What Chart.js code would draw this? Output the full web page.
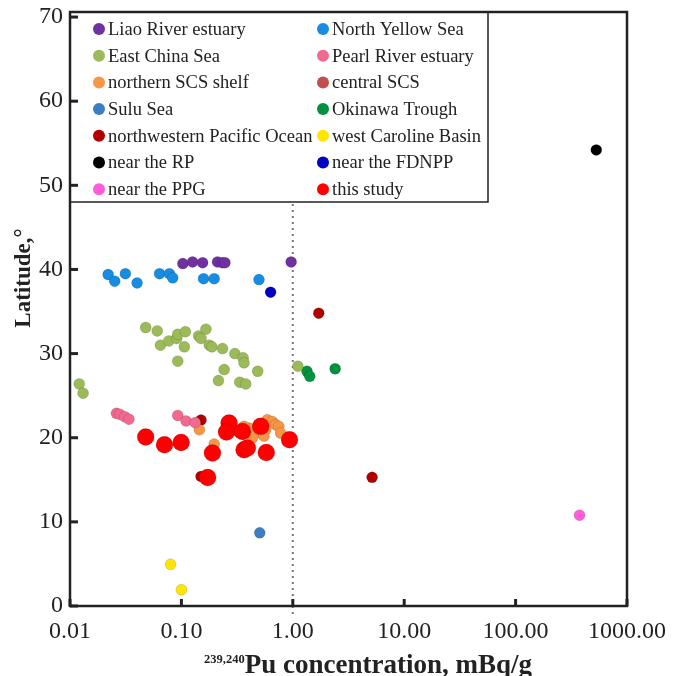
<!DOCTYPE html>
<html>
<head>
<meta charset="utf-8">
<script src="https://cdn.jsdelivr.net/npm/chart.js@4.4.1/dist/chart.umd.min.js"></script>
<style>
html, body { margin: 0; padding: 0; background: #fff; }
</style>
</head>
<body>
<canvas id="myChart" width="676" height="676"></canvas>
<script>
const xTickValues = [0.01, 0.1, 1, 10, 100, 1000];
const xTickLabels = ['0.01', '0.10', '1.00', '10.00', '100.00', '1000.00'];
const yTickValues = [0, 10, 20, 30, 40, 50, 60, 70];
const refLine = 1;

const liaoX = [0.103, 0.126, 0.155, 0.211, 0.234, 0.246, 0.966];
const liaoY = [40.7, 40.9, 40.8, 40.9, 40.8, 40.8, 40.9];

const yellowSeaX = [0.022, 0.0252, 0.0314, 0.040, 0.0637, 0.078, 0.0836, 0.158, 0.197, 0.497];
const yellowSeaY = [39.4, 38.6, 39.5, 38.4, 39.5, 39.5, 39.0, 38.9, 38.9, 38.8];

const eastChinaX = [0.0478, 0.0607, 0.0649, 0.0771, 0.0908, 0.0927, 0.1086, 0.1063, 0.0927, 0.1427, 0.150, 0.166, 0.178,
    0.188, 0.234, 0.302, 0.358, 0.365, 0.242, 0.215, 0.484, 0.334, 0.378, 0.0121, 0.0131, 1.11];
const eastChinaY = [33.1, 32.7, 31.0, 31.5, 31.8, 32.3, 32.6, 30.8, 29.1, 32.1, 31.8, 32.9, 31.0,
    30.8, 30.6, 30.0, 29.5, 28.9, 28.1, 26.8, 27.9, 26.6, 26.4, 26.4, 25.3, 28.5];

const pearlX = [0.0261, 0.0279, 0.031, 0.0338, 0.0927, 0.110, 0.133];
const pearlY = [22.9, 22.8, 22.5, 22.2, 22.65, 22.0, 21.8];

const scsShelfX = [0.145, 0.197, 0.405, 0.434, 0.540, 0.590, 0.654, 0.701, 0.750, 0.776, 0.490, 0.365, 0.318, 0.571, 0.551];
const scsShelfY = [20.95, 19.25, 21.15, 19.96, 20.36, 22.14, 21.94, 21.55, 21.35, 20.56, 20.95, 21.35, 20.75, 20.95, 20.2];

const centralScsX = [];
const centralScsY = [];

const suluX = [0.505];
const suluY = [8.7];

const okinawaX = [1.34, 1.42, 2.40];
const okinawaY = [27.9, 27.3, 28.2];

const nwPacificX = [1.71, 5.15, 0.150, 0.150];
const nwPacificY = [34.8, 15.3, 22.1, 15.4];

const carolineX = [0.080, 0.100];
const carolineY = [4.95, 1.93];

const rpX = [530];
const rpY = [54.2];

const fdnppX = [0.632];
const fdnppY = [37.3];

const ppgX = [375];
const ppgY = [10.8];

const studyX = [0.0478, 0.0705, 0.0994, 0.190, 0.172, 0.268, 0.254, 0.353, 0.515, 0.365, 0.391, 0.578, 0.934];
const studyY = [20.08, 19.17, 19.44, 18.18, 15.27, 21.75, 20.68, 20.75, 21.35, 18.57, 18.77, 18.25, 19.76];

function pts(xs, ys) {
    return xs.map((v, i) => ({ x: v, y: ys[i] }));
}

function series(label, xs, ys, color, r) {
    return {
        label: label,
        data: pts(xs, ys),
        backgroundColor: color,
        borderColor: 'rgba(0,0,0,0.18)',
        borderWidth: 0.7,
        pointRadius: r || 5.5,
        pointHoverRadius: r || 5.5,
        order: label === 'this study' ? 0 : 1
    };
}

const serif = '"Liberation Serif", "Times New Roman", serif';

const framePlugin = {
    id: 'frame',
    beforeDatasetsDraw(chart) {
        const ctx = chart.ctx;
        const a = chart.chartArea;
        const px = chart.scales.x.getPixelForValue(refLine);
        ctx.save();
        ctx.strokeStyle = '#777';
        ctx.lineWidth = 2;
        ctx.setLineDash([2, 4]);
        ctx.beginPath();
        ctx.moveTo(px, a.top);
        ctx.lineTo(px, a.bottom + 12);
        ctx.stroke();
        ctx.restore();
    },
    afterDatasetsDraw(chart) {
        const ctx = chart.ctx;
        const a = chart.chartArea;
        const x = chart.scales.x;
        const y = chart.scales.y;
        ctx.save();

        // legend box
        const boxR = 488, boxB = 202;
        ctx.fillStyle = '#fff';
        ctx.fillRect(a.left, a.top, boxR - a.left, boxB - a.top);
        ctx.strokeStyle = '#222';
        ctx.lineWidth = 1.5;
        ctx.strokeRect(a.left, a.top, boxR - a.left, boxB - a.top);

        ctx.font = '18.5px ' + serif;
        ctx.textAlign = 'left';
        ctx.textBaseline = 'middle';
        chart.data.datasets.forEach((ds, i) => {
            const col = i % 2;
            const row = Math.floor(i / 2);
            const mx = col === 0 ? 99 : 323;
            const my = 29 + row * 26.7;
            ctx.fillStyle = ds.backgroundColor;
            ctx.beginPath();
            ctx.arc(mx, my, 6, 0, Math.PI * 2);
            ctx.fill();
            ctx.fillStyle = '#222';
            ctx.fillText(ds.label, mx + 9, my + 1);
        });

        // frame
        ctx.strokeStyle = '#222';
        ctx.lineWidth = 2.5;
        ctx.strokeRect(a.left, a.top, a.right - a.left, a.bottom - a.top);

        // inward ticks
        ctx.lineWidth = 3;
        xTickValues.forEach(v => {
            const p = x.getPixelForValue(v);
            ctx.beginPath();
            ctx.moveTo(p, a.bottom);
            ctx.lineTo(p, a.bottom - 7);
            ctx.stroke();
        });
        yTickValues.forEach(v => {
            const p = y.getPixelForValue(v);
            ctx.beginPath();
            ctx.moveTo(a.left, p);
            ctx.lineTo(a.left + 8, p);
            ctx.stroke();
        });

        // axis titles
        ctx.fillStyle = '#222';
        ctx.save();
        ctx.translate(24, 278);
        ctx.rotate(-Math.PI / 2);
        ctx.font = 'bold 23px ' + serif;
        ctx.textAlign = 'center';
        ctx.fillText('Latitude,°', 0, 0);
        ctx.restore();

        ctx.textAlign = 'left';
        ctx.textBaseline = 'alphabetic';
        const sup = '239,240';
        const main = 'Pu concentration, mBq/g';
        ctx.font = 'bold 12.5px ' + serif;
        const w1 = ctx.measureText(sup).width;
        ctx.font = 'bold 27px ' + serif;
        const w2 = ctx.measureText(main).width;
        const sx = 368 - (w1 + w2) / 2;
        ctx.font = 'bold 12.5px ' + serif;
        ctx.fillText(sup, sx, 663);
        ctx.font = 'bold 27px ' + serif;
        ctx.fillText(main, sx + w1, 673);

        ctx.restore();
    }
};

var ctx = document.getElementById('myChart').getContext('2d');
var myChart = new Chart(ctx, { //eslint-disable-line
    type: 'scatter',
    data: {
        datasets: [
            series('Liao River estuary', liaoX, liaoY, '#7030A0'),
            series('North Yellow Sea', yellowSeaX, yellowSeaY, '#168DE2'),
            series('East China Sea', eastChinaX, eastChinaY, '#9BBB59'),
            series('Pearl River estuary', pearlX, pearlY, '#F2698F'),
            series('northern SCS shelf', scsShelfX, scsShelfY, '#F79646'),
            series('central SCS', centralScsX, centralScsY, '#C0504D'),
            series('Sulu Sea', suluX, suluY, '#3D7DC2'),
            series('Okinawa Trough', okinawaX, okinawaY, '#00923F'),
            series('northwestern Pacific Ocean', nwPacificX, nwPacificY, '#B00000'),
            series('west Caroline Basin', carolineX, carolineY, '#FFE600'),
            series('near the RP', rpX, rpY, '#000000'),
            series('near the FDNPP', fdnppX, fdnppY, '#0000C0'),
            series('near the PPG', ppgX, ppgY, '#FF5CDB'),
            series('this study', studyX, studyY, '#FF0000', 8.5)
        ]
    },
    options: {
        responsive: false,
        animation: false,
        devicePixelRatio: 1,
        layout: { padding: { top: 12, right: 49, left: 0, bottom: 0 } },
        plugins: {
            legend: { display: false },
            tooltip: { enabled: false }
        },
        scales: {
            x: {
                type: 'logarithmic',
                min: 0.01,
                max: 1000,
                grid: { display: false, drawTicks: false },
                border: { display: false },
                afterBuildTicks: scale => {
                    scale.ticks = xTickValues.map(v => ({ value: v }));
                },
                afterFit: scale => {
                    scale.height = 70;
                    scale.paddingLeft = 0;
                    scale.paddingRight = 0;
                },
                ticks: {
                    autoSkip: false,
                    maxRotation: 0,
                    padding: 11,
                    color: '#222',
                    font: { family: serif, size: 24 },
                    callback: (value, index) => xTickLabels[index]
                }
            },
            y: {
                min: 0,
                max: 70.6,
                grid: { display: false, drawTicks: false },
                border: { display: false },
                afterBuildTicks: scale => {
                    scale.ticks = yTickValues.map(v => ({ value: v }));
                },
                afterFit: scale => {
                    scale.width = 70;
                    scale.paddingTop = 0;
                    scale.paddingBottom = 0;
                },
                ticks: {
                    padding: 7,
                    color: '#222',
                    font: { family: serif, size: 24 }
                }
            }
        }
    },
    plugins: [framePlugin]
});
</script>
</body>
</html>
